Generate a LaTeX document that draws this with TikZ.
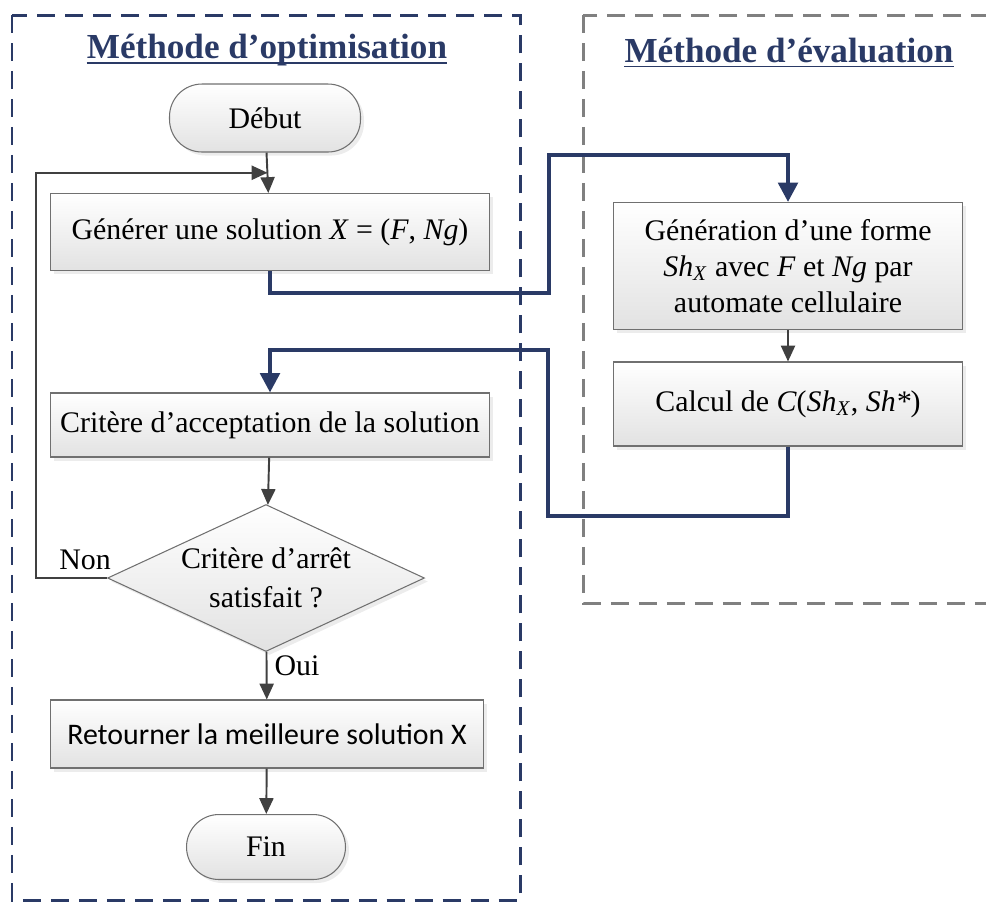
\documentclass[tikz,border=0pt]{standalone}
\usepackage{fontspec}
\setmainfont{Liberation Serif}
\newfontfamily\calibrifont{Carlito}
\usepackage{tikz}
\usetikzlibrary{arrows.meta,positioning,calc,shapes.geometric,shadows}
\definecolor{navy}{HTML}{2A3A66}
\definecolor{framegray}{HTML}{808080}
\definecolor{boxline}{HTML}{707070}
\definecolor{arrowgray}{HTML}{404040}
\definecolor{boxbottom}{HTML}{E2E2E2}

\begin{document}
\begin{tikzpicture}[x=0.02cm, y=-0.02cm,
  box/.style={draw=boxline, line width=0.6pt, top color=white, bottom color=boxbottom, drop shadow={shadow xshift=2pt, shadow yshift=-2pt, fill=black!15}, align=center, inner sep=2pt, font=\fontsize{17}{20.5}\selectfont},
  term/.style={box, rounded corners=0.65cm},
  decision/.style={box, diamond, aspect=2.16, inner sep=0pt, font=\fontsize{17}{22}\selectfont},
  title/.style={font=\fontsize{20}{24}\selectfont\bfseries, text=navy, inner sep=0pt},
  uline/.style={navy, line width=1pt},
  lbl/.style={font=\fontsize{17}{20}\selectfont},
  frame/.style={line width=1.7pt, dash pattern=on 0.36cm off 0.2cm},
  arr/.style={-{Triangle[length=9pt, width=8pt]}, line width=1.1pt, arrowgray},
  navyarr/.style={-{Triangle[length=11pt, width=11pt]}, line width=2.4pt, navy}
]
  \useasboundingbox (0,0) rectangle (986,904);

  % frames
  \draw[frame, navy] (12,15) rectangle (520,900);
  \draw[frame, framegray] (583,15) rectangle (1010,603);
  \node[title] (optTitle) at (267,50) {Méthode d’optimisation};
  \node[title] (evalTitle) at (789,50) {Méthode d’évaluation};
  \draw[uline] ([yshift=-2.5pt]optTitle.base west) -- ([yshift=-2.5pt]optTitle.base east);
  \draw[uline] ([yshift=-2.5pt]evalTitle.base west) -- ([yshift=-2.5pt]evalTitle.base east);

  % optimisation
  \node[term, minimum width=3.82cm, minimum height=1.36cm] (debut) at (265,118) {Début};
  \node[box, minimum width=8.8cm, minimum height=1.54cm] (gen) at (270,232) {Générer une solution \textit{X} = (\textit{F}, \textit{Ng})};
  \node[box, minimum width=8.8cm, minimum height=1.28cm] (accept) at (270,425) {Critère d’acceptation de la solution};
  \node[decision, minimum width=6.34cm, minimum height=2.94cm] (stop) at (266,578) {Critère d’arrêt\\satisfait ?};
  \node[box, minimum width=8.68cm, minimum height=1.36cm, font=\calibrifont\fontsize{17}{20}\selectfont] (ret) at (267,734) {Retourner la meilleure solution X};
  \node[term, minimum width=3.18cm, minimum height=1.3cm] (fin) at (266,847) {Fin};
  \node[lbl] (non) at (85,560) {Non};
  \node[lbl] (oui) at (297,666) {Oui};

  % evaluation
  \node[box, minimum width=6.98cm, minimum height=2.54cm] (forme) at (788,266) {Génération d’une forme\\\textit{Sh}\textsubscript{\textit{X}} avec \textit{F} et \textit{Ng} par\\automate cellulaire};
  \node[box, minimum width=6.98cm, minimum height=1.68cm] (calc) at (788,404) {Calcul de \textit{C}(\textit{Sh}\textsubscript{\textit{X}}, \textit{Sh*})};

  \coordinate (merge) at ($(debut.south)!0.5!(gen.north)$);
  \coordinate (bendA) at (549,293);
  \coordinate (bendB) at (549,155);
  \coordinate (bendC) at (548,516);
  \coordinate (bendD) at (548,350);

  \draw[arr] (debut) -- (gen);
  \draw[arr] (stop.west) -- ++(-71,0) |- (merge);
  \draw[arr] (accept) -- (stop);
  \draw[arr] (stop) -- (ret);
  \draw[arr] (ret) -- (fin);
  \draw[arr] (forme) -- (calc);
  \draw[navyarr] (gen.south) |- (bendA) -- (bendB) -| (forme.north);
  \draw[navyarr] (calc.south) |- (bendC) -- (bendD) -| (accept.north);
\end{tikzpicture}
\end{document}
